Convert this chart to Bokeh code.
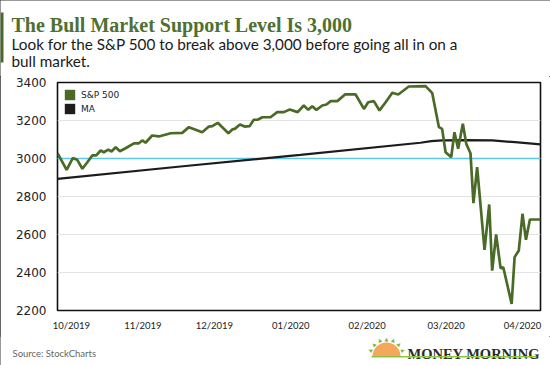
import math
from bokeh.plotting import figure
from bokeh.layouts import column
from bokeh.models import Range1d, Span, Label, BoxAnnotation, Legend, LegendItem, FixedTicker
from bokeh.embed import file_html
from bokeh.resources import INLINE

W = 550
HEAD_H, MAIN_H, FOOT_H = 76, 260, 29          # 76 + 260 + 29 = 365
FL, FR, FT, FB = 57, 540, 6, 234               # frame edges inside the main figure

# days since 1 Oct 2019
days = [-5.6, -1.9, 0.6, 2.4, 4.5, 6.5, 8.5, 10.1, 11.9, 13.2, 15.0, 16.3, 18.0, 19.7, 22.0,
        25.4, 27.4, 28.8, 30.1, 32.8, 35.5, 40.3, 45.0, 47.7, 53.1, 55.8, 57.2, 59.4, 63.7,
        65.3, 66.3, 68.4, 70.3, 72.3, 74.0, 75.7, 77.5, 80.8, 83.5, 86.2, 88.6, 91.8, 94.3,
        96.1, 97.7, 99.4, 101.8, 103.5, 105.2, 107.9, 111.0, 115.3, 118.7, 120.4, 122.7,
        125.0, 127.5, 130.2, 132.6, 136.9, 143.7, 146.4, 149.1, 150.4, 151.8, 154.1, 155.4,
        156.9, 158.8, 160.2, 161.9, 163.1, 164.6, 167.6, 169.5, 170.7, 172.3, 174.1, 175.2,
        178.6, 179.8, 181.5, 183.0, 184.4, 186.0, 190.3]
sp500 = [3028, 2940, 3002, 2993, 2946, 2980, 3016, 3016, 3042, 3033, 3047, 3037, 3059, 3038, 3054,
         3080, 3080, 3095, 3083, 3121, 3116, 3133, 3135, 3165, 3138, 3168, 3170, 3188, 3133,
         3153, 3156, 3179, 3168, 3170, 3204, 3205, 3217, 3217, 3244, 3244, 3258, 3244, 3279,
         3256, 3275, 3256, 3279, 3284, 3302, 3302, 3337, 3337, 3261, 3296, 3302,
         3253, 3296, 3346, 3337, 3379, 3381, 3344, 3165, 3156, 3033, 3007, 3138,
         3051, 3183, 3077, 3028, 2765, 2954, 2519, 2758, 2410, 2600, 2423, 2428,
         2235, 2481, 2516, 2709, 2572, 2679, 2679]

ma_days = [-5.6, 44.3, 92.9, 141.6, 146.0, 150.4, 160.0, 170.7, 180.0, 190.3]
ma = [2893, 2958, 3019, 3083, 3091, 3095, 3097, 3095, 3086, 3074]

x_ticks = [0, 29, 58, 89, 120, 152, 183]
x_labels = ["10/2019", "11/2019", "12/2019", "01/2020", "02/2020", "03/2020", "04/2020"]
y_ticks = [2200, 2400, 2600, 2800, 3000, 3200, 3400]
support = 3000

GREEN = "#4a6b28"
BORDER = "#333333"


def blank(height):
    f = figure(width=W, height=height, output_backend="svg", toolbar_location=None,
               x_range=Range1d(0, 1), y_range=Range1d(0, 1), frame_align=False,
               min_border_left=0, min_border_right=0, min_border_top=0, min_border_bottom=0)
    f.title.visible = False
    f.axis.visible = False
    f.grid.visible = False
    f.outline_line_color = None
    f.background_fill_color = "white"
    f.border_fill_color = "white"
    return f


def text(f, t, cx, cy, size, font, color, style="normal", align="left", angle=0.0):
    # cx, cy: position from the top-left of figure f (its frame fills the figure)
    f.add_layout(Label(x=cx, y=f.height - cy, x_units="screen", y_units="screen", text=t,
                       text_font=font, text_font_size=size, text_color=color,
                       text_font_style=style, text_align=align, text_baseline="alphabetic",
                       angle=angle))


def box(f, l, r, t, b, **kw):
    f.add_layout(BoxAnnotation(left=l, right=r, top=f.height - t, bottom=f.height - b,
                               left_units="screen", right_units="screen",
                               top_units="screen", bottom_units="screen", **kw))


# ---------------- header ----------------
head = blank(HEAD_H)
text(head, "The Bull Market Support Level Is 3,000", 11, 24, "20px", "Liberation Serif", "#4e7031", "bold")
text(head, "Look for the S&P 500 to break above 3,000 before going all in on a", 11, 43.3, "15.3px", "Lato", "#1a1a1a")
text(head, "bull market.", 11, 60, "15.3px", "Lato", "#1a1a1a")
box(head, 0, 3, 12, 62, fill_color=GREEN, fill_alpha=1, line_color=None)

# ---------------- main chart ----------------
p = figure(width=W, height=MAIN_H, output_backend="svg", toolbar_location=None,
           x_range=Range1d(-5.6, 190.3), y_range=Range1d(2200, 3400), frame_align=False,
           min_border_left=FL, min_border_right=W - FR, min_border_top=FT, min_border_bottom=MAIN_H - FB)
p.title.visible = False
p.outline_line_color = "#111111"
p.outline_line_width = 1.6
p.background_fill_color = "white"
p.border_fill_color = "white"

p.xgrid.visible = False
p.ygrid.ticker = FixedTicker(ticks=y_ticks)
p.ygrid.grid_line_color = "#e3e3e3"
p.ygrid.grid_line_width = 1

for ax in (p.xaxis, p.yaxis):
    ax.axis_line_color = None
    ax.major_tick_line_color = None
    ax.minor_tick_line_color = None
    ax.major_tick_in = 0
    ax.major_tick_out = 0
    ax.major_label_text_color = "#222222"

p.yaxis.ticker = FixedTicker(ticks=y_ticks)
p.yaxis.major_label_text_font = "DejaVu Sans"
p.yaxis.major_label_text_font_size = "12px"
p.yaxis.major_label_standoff = 11

p.xaxis.ticker = FixedTicker(ticks=x_ticks)
p.xaxis.major_label_overrides = dict(zip(x_ticks, x_labels))
p.xaxis.major_label_text_font = "Lato"
p.xaxis.major_label_text_font_size = "9.5px"
p.xaxis.major_label_standoff = 9

span = Span(location=support, dimension="width", line_color="#5bc8ea", line_width=1.3, level="underlay")
p.add_layout(span)

p.line(ma_days, ma, line_color="#1c1c1c", line_width=2.2)
p.line(days, sp500, line_color=GREEN, line_width=2.7)

nan = float("nan")
r1 = p.quad(left=[nan], right=[nan], top=[nan], bottom=[nan], fill_color=GREEN, line_color=None)
r2 = p.quad(left=[nan], right=[nan], top=[nan], bottom=[nan], fill_color="#1f1c1c", line_color=None)
legend = Legend(items=[LegendItem(label="S&P 500", renderers=[r1]),
                       LegendItem(label="MA", renderers=[r2])],
                location="top_left", glyph_width=13, glyph_height=13, spacing=1,
                padding=0, margin=6, label_standoff=5,
                label_text_font="DejaVu Sans", label_text_font_size="9px",
                label_text_color="#222222",
                background_fill_alpha=0, border_line_color=None)
p.add_layout(legend)

# ---------------- footer ----------------
foot = blank(FOOT_H)
Y0 = HEAD_H + MAIN_H    # canvas y where the footer starts


def ftext(t, cx, cy, *a, **kw):
    text(foot, t, cx, cy - Y0, *a, **kw)


ftext("Source: StockCharts", 12, 353, "9.5px", "Lato", "#666666")
ftext("MONEY MORNING", 407, 353.5, "14.5px", "Liberation Serif", "#2a2a2a", "bold")
box(foot, 372, 400, 342 - Y0, 356 - Y0, fill_color="#f6a85a", fill_alpha=1, line_color=None,
    border_radius=(14, 14, 0, 0))
box(foot, 371, 536, 355.5 - Y0, 357 - Y0, fill_color="#8cc63f", fill_alpha=1, line_color=None)
for k in range(7):
    a = math.radians(160 - k * 140 / 6)
    ftext("▲", 386 + 18 * math.cos(a), 356 - 18 * math.sin(a), "5px", "DejaVu Sans", "#7ab648",
          align="center", angle=a - math.pi / 2)

layout = column(head, p, foot, spacing=0,
                styles={"outline": "1.5px solid " + BORDER, "outline-offset": "-1.5px"})

open("out.html", "w").write(file_html(layout, INLINE))
